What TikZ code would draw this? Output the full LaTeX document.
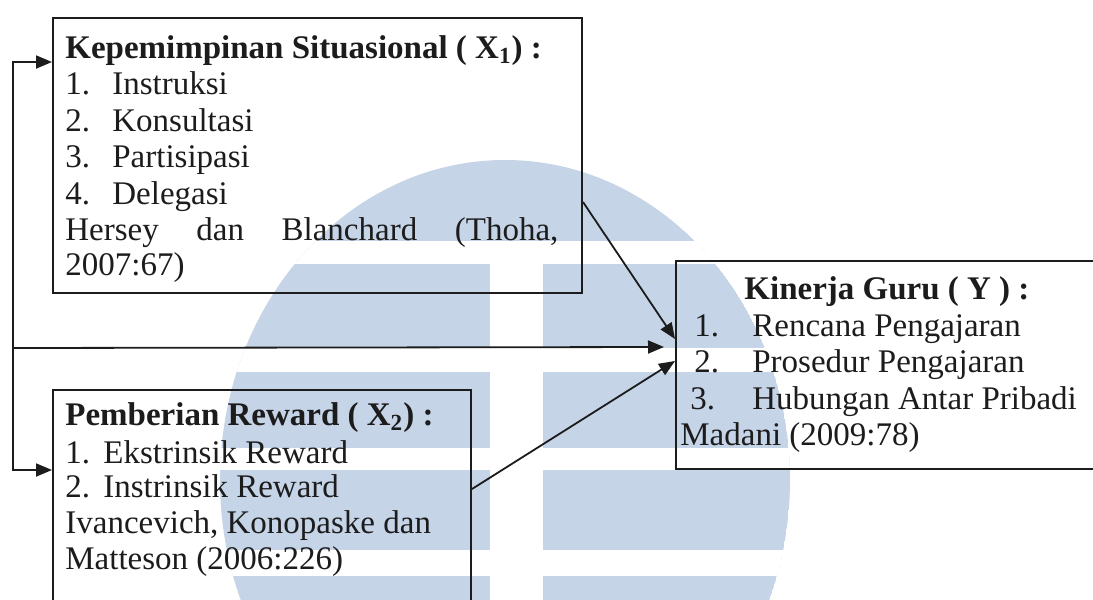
\documentclass[tikz,border=0pt]{standalone}
\usepackage{fontspec}
\setmainfont{Liberation Serif}
\usetikzlibrary{arrows.meta,calc,fit}

\definecolor{wmblue}{RGB}{198,212,232}
\definecolor{ink}{RGB}{28,28,28}

\tikzset{
  box/.style={draw=ink, line width=1pt, inner sep=0pt},
  txt/.style={anchor=base west, inner sep=0pt, text=ink},
  arr/.style={draw=ink, line width=0.9pt, -{Triangle[length=8pt,width=6.5pt]}}
}

\begin{document}
\begin{tikzpicture}[x=0.5pt,y=-0.5pt,font=\fontsize{16.5}{19}\selectfont]
\useasboundingbox (0,0) rectangle (1093,600);

% watermark behind the diagram
\begin{scope}
\clip (505,480) ellipse[x radius=285, y radius=320];
\fill[wmblue] (505,480) ellipse[x radius=285, y radius=320];
\fill[white] (0,241) rectangle (1093,264);
\fill[white] (0,348) rectangle (1093,372);
\fill[white] (0,448) rectangle (1093,470);
\fill[white] (0,550) rectangle (1093,576);
\fill[white] (490,255) rectangle (543,600);
\end{scope}

% boxes
\node[box, fit={(53,18) (582,293)}] (kep) {};
\node[box, fit={(53,390) (471,620)}] (rew) {};
\node[box, fit={(676,261) (1110,469)}] (kin) {};

% text of the situational leadership box
\node[txt] (kepT) at (65,58) {\textbf{Kepemimpinan Situasional ( X\textsubscript{1}) :}};
\node[txt] (kep1) at (65,94) {\makebox[23.5pt][l]{1.}Instruksi};
\node[txt] (kep2) at (65,131) {\makebox[23.5pt][l]{2.}Konsultasi};
\node[txt] (kep3) at (65,167) {\makebox[23.5pt][l]{3.}Partisipasi};
\node[txt] (kep4) at (65,204) {\makebox[23.5pt][l]{4.}Delegasi};
\node[txt] (kep5) at (65,240) {\makebox[246.5pt][s]{Hersey dan Blanchard (Thoha,}};
\node[txt] (kep6) at (65,275) {2007:67)};

% text of the reward box
\node[txt] (rewT) at (65,425) {\textbf{Pemberian Reward ( X\textsubscript{2}) :}};
\node[txt] (rew1) at (65,463) {\makebox[19pt][l]{1.}Ekstrinsik Reward};
\node[txt] (rew2) at (65,497) {\makebox[19pt][l]{2.}Instrinsik Reward};
\node[txt] (rew3) at (65,533) {Ivancevich, Konopaske dan};
\node[txt] (rew4) at (65,569) {Matteson (2006:226)};

% text of the teacher performance box
\node[txt] (kinT) at (744,299) {\textbf{Kinerja Guru ( Y ) :}};
\node[txt] (kin1) at (694,336) {\makebox[29pt][l]{1.}Rencana Pengajaran};
\node[txt] (kin2) at (694,372) {\makebox[29pt][l]{2.}Prosedur Pengajaran};
\node[txt] (kin3) at (690,409) {\makebox[31pt][l]{3.}Hubungan Antar Pribadi};
\node[txt] (kin4) at (680,445) {Madani (2009:78)};

% left feedback line
\coordinate (split) at (13,348);
\draw[arr] (split) |- ($(kep.north west)+(0,45)$);
\draw[arr] (split) |- ($(rew.north west)+(0,81)$);
\draw[arr] (split) -- ($(kin.north west)+(-11,87)$);

% direct links to Y
\draw[arr] ($(kep.north east)+(0,185)$) -- ($(kin.north west)+(0,79)$);
\draw[arr] ($(rew.north east)+(0,100)$) -- ($(kin.north west)+(0,101)$);

\end{tikzpicture}
\end{document}
